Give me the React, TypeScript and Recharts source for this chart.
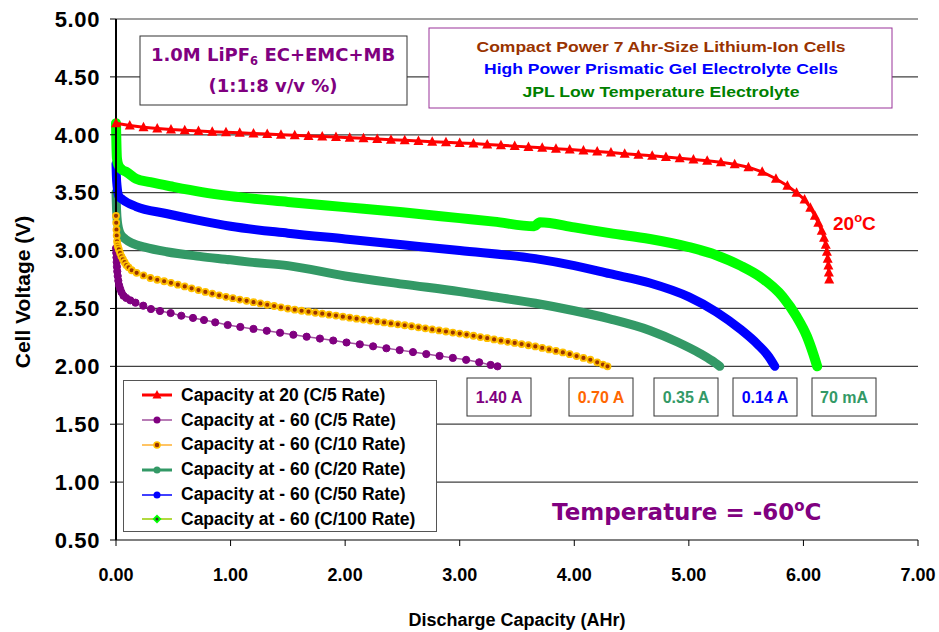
import React from "react";
import { CartesianGrid, Legend, Line, LineChart, XAxis, YAxis } from "recharts";

const xTicks = [0, 1, 2, 3, 4, 5, 6, 7];
const yTicks = [0.5, 1, 1.5, 2, 2.5, 3, 3.5, 4, 4.5, 5];

// [capacity AHr, voltage V]
const rt_c5 = [
  [0, 4.10], [0.12, 4.08], [0.24, 4.065], [0.36, 4.055], [0.48, 4.045], [0.60, 4.04], [0.72, 4.033],
  [0.84, 4.027], [0.96, 4.022], [1.08, 4.017], [1.20, 4.012], [1.32, 4.006], [1.44, 4.0], [1.56, 3.995],
  [1.68, 3.99], [1.80, 3.985], [1.92, 3.98], [2.04, 3.975], [2.16, 3.97], [2.28, 3.964], [2.40, 3.958],
  [2.52, 3.952], [2.64, 3.946], [2.76, 3.94], [2.88, 3.935], [3.00, 3.93], [3.12, 3.924], [3.24, 3.917],
  [3.36, 3.91], [3.48, 3.902], [3.60, 3.895], [3.72, 3.888], [3.84, 3.88], [3.96, 3.872], [4.08, 3.864],
  [4.20, 3.855], [4.32, 3.846], [4.44, 3.837], [4.56, 3.828], [4.68, 3.818], [4.80, 3.808], [4.92, 3.797],
  [5.04, 3.786], [5.16, 3.775], [5.28, 3.762], [5.40, 3.745], [5.52, 3.72], [5.64, 3.68], [5.76, 3.62],
  [5.86, 3.56], [5.94, 3.50], [6.01, 3.44], [6.06, 3.37], [6.10, 3.30], [6.13, 3.24], [6.16, 3.17],
  [6.18, 3.11], [6.195, 3.05], [6.205, 2.99], [6.212, 2.93], [6.218, 2.87], [6.222, 2.81], [6.225, 2.75],
];

const lt_c5 = [
  [0, 3.02], [0.002, 2.98], [0.004, 2.94], [0.006, 2.90], [0.008, 2.86], [0.011, 2.82], [0.015, 2.78],
  [0.02, 2.74], [0.027, 2.70], [0.036, 2.67], [0.048, 2.64], [0.065, 2.61], [0.09, 2.59], [0.125, 2.57],
  [0.17, 2.55], [0.238, 2.524], [0.305, 2.495], [0.384, 2.478], [0.477, 2.46],
  [0.57, 2.437], [0.672, 2.418], [0.768, 2.40], [0.866, 2.38], [0.975, 2.357], [1.085, 2.34], [1.20, 2.323],
  [1.316, 2.307], [1.432, 2.29], [1.548, 2.273], [1.664, 2.256], [1.78, 2.24], [1.896, 2.223], [2.012, 2.206],
  [2.128, 2.19], [2.244, 2.173], [2.36, 2.156], [2.476, 2.14], [2.592, 2.123], [2.708, 2.106], [2.824, 2.09],
  [2.94, 2.073], [3.056, 2.056], [3.17, 2.035], [3.27, 2.012], [3.33, 2.0],
];

const lt_c10 = [
  [0, 3.30], [0.002, 3.24], [0.004, 3.18], [0.006, 3.13], [0.009, 3.08], [0.013, 3.05], [0.018, 3.03],
  [0.025, 3.01], [0.035, 2.98], [0.047, 2.95], [0.06, 2.925], [0.075, 2.90], [0.09, 2.875], [0.11, 2.855],
  [0.137, 2.83], [0.18, 2.808], [0.24, 2.785], [0.30, 2.763], [0.36, 2.748], [0.42, 2.735], [0.48, 2.721],
  [0.54, 2.705], [0.60, 2.69], [0.66, 2.674], [0.72, 2.659], [0.78, 2.643], [0.84, 2.628], [0.90, 2.613],
  [0.96, 2.60], [1.02, 2.589], [1.08, 2.577], [1.14, 2.566], [1.20, 2.554], [1.26, 2.543], [1.32, 2.532],
  [1.38, 2.521], [1.44, 2.51], [1.50, 2.499], [1.56, 2.489], [1.62, 2.48], [1.68, 2.472], [1.74, 2.463],
  [1.80, 2.455], [1.86, 2.446], [1.92, 2.438], [1.98, 2.429], [2.04, 2.42], [2.10, 2.412], [2.16, 2.404],
  [2.22, 2.396], [2.28, 2.388], [2.34, 2.379], [2.40, 2.371], [2.46, 2.363], [2.52, 2.355], [2.58, 2.346],
  [2.64, 2.337], [2.70, 2.328], [2.76, 2.319], [2.82, 2.31], [2.88, 2.301], [2.94, 2.292], [3.00, 2.283],
  [3.06, 2.274], [3.12, 2.264], [3.18, 2.253], [3.24, 2.243], [3.30, 2.232], [3.36, 2.222], [3.42, 2.212],
  [3.48, 2.202], [3.54, 2.192], [3.60, 2.182], [3.66, 2.172], [3.72, 2.159], [3.78, 2.146], [3.84, 2.133],
  [3.90, 2.12], [3.96, 2.105], [4.02, 2.089], [4.08, 2.073], [4.14, 2.057], [4.20, 2.035], [4.25, 2.015],
  [4.29, 2.0],
];

const lt_c20 = [
  [0, 3.50], [0.005, 3.35], [0.012, 3.25], [0.035, 3.15], [0.08, 3.10], [0.15, 3.06], [0.25, 3.03],
  [0.44, 2.99], [0.73, 2.95], [1.0, 2.92], [1.17, 2.90], [1.5, 2.87], [2.0, 2.78], [2.5, 2.71],
  [3.0, 2.645], [3.3, 2.60], [3.66, 2.545], [4.0, 2.48], [4.31, 2.41], [4.66, 2.31], [4.9, 2.21],
  [5.1, 2.11], [5.2, 2.05], [5.27, 2.0],
];

const lt_c50 = [
  [0, 3.75], [0.003, 3.65], [0.01, 3.55], [0.025, 3.47], [0.058, 3.44], [0.175, 3.38], [0.436, 3.32],
  [0.7, 3.265], [1.0, 3.21], [1.5, 3.15], [2.0, 3.10], [2.5, 3.05], [3.0, 3.0], [3.66, 2.93],
  [4.0, 2.87], [4.31, 2.80], [4.66, 2.72], [5.0, 2.60], [5.24, 2.47], [5.45, 2.32], [5.6, 2.19],
  [5.7, 2.08], [5.75, 2.0],
];

const lt_c100 = [
  [0, 4.10], [0.003, 3.95], [0.008, 3.80], [0.02, 3.74], [0.05, 3.70], [0.09, 3.68], [0.175, 3.62],
  [0.3, 3.59], [0.5, 3.55], [0.75, 3.505], [1.0, 3.47], [1.5, 3.42], [2.0, 3.375], [2.5, 3.33],
  [3.0, 3.28], [3.3, 3.25], [3.65, 3.21], [3.70, 3.245], [4.0, 3.20], [4.31, 3.15], [4.66, 3.10],
  [5.0, 3.03], [5.24, 2.96], [5.45, 2.87], [5.62, 2.775], [5.82, 2.60], [5.94, 2.43], [6.03, 2.26],
  [6.085, 2.11], [6.12, 2.0],
];

const seriesNames = [
  "Capacity at 20 (C/5 Rate)",
  "Capacity at - 60 (C/5 Rate)",
  "Capacity at - 60 (C/10 Rate)",
  "Capacity at - 60 (C/20 Rate)",
  "Capacity at - 60 (C/50 Rate)",
  "Capacity at - 60 (C/100 Rate)",
];

const currentLabels = ["1.40 A", "0.70 A", "0.35 A", "0.14 A", "70 mA"];

const pts = (arr: number[][]) => arr.map(([c, v]) => ({ c, v }));

const FONT = "'Liberation Sans', Arial, sans-serif";
const COMIC = "'DejaVu Sans', sans-serif";

function Tri(props: any) {
  const { cx, cy } = props;
  if (cx == null || cy == null) return null;
  return <polygon points={`${cx},${cy - 5.5} ${cx - 5},${cy + 4} ${cx + 5},${cy + 4}`} fill="#FF0000" />;
}

function LegendIcon({ i }: { i: number }) {
  const y = 7;
  switch (i) {
    case 0:
      return (
        <svg width={30} height={14}>
          <line x1={0} x2={30} y1={y} y2={y} stroke="#FF0000" strokeWidth={3} />
          <polygon points={`15,${y - 5} 10.5,${y + 3.5} 19.5,${y + 3.5}`} fill="#FF0000" />
        </svg>
      );
    case 1:
      return (
        <svg width={30} height={14}>
          <line x1={0} x2={30} y1={y} y2={y} stroke="#A0509E" strokeWidth={1.5} />
          <circle cx={15} cy={y} r={3.5} fill="#800080" />
        </svg>
      );
    case 2:
      return (
        <svg width={30} height={14}>
          <line x1={0} x2={30} y1={y} y2={y} stroke="#FFB030" strokeWidth={1.5} />
          <circle cx={15} cy={y} r={3} fill="#993300" stroke="#FFC000" strokeWidth={1.5} />
        </svg>
      );
    case 3:
      return (
        <svg width={30} height={14}>
          <line x1={0} x2={30} y1={y} y2={y} stroke="#339966" strokeWidth={3} />
          <circle cx={15} cy={y} r={3.5} fill="#339966" />
        </svg>
      );
    case 4:
      return (
        <svg width={30} height={14}>
          <line x1={0} x2={30} y1={y} y2={y} stroke="#0000FF" strokeWidth={1.5} />
          <circle cx={15} cy={y} r={3.5} fill="#0000FF" />
        </svg>
      );
    default:
      return (
        <svg width={30} height={14}>
          <line x1={0} x2={30} y1={y} y2={y} stroke="#99CC00" strokeWidth={1.5} />
          <polygon points={`15,${y - 4.5} 19.5,${y} 15,${y + 4.5} 10.5,${y}`} fill="#00FF00" />
          <circle cx={15} cy={y} r={1.5} fill="#333" />
        </svg>
      );
  }
}

function LegendBox() {
  return (
    <div
      style={{
        width: 312,
        height: 148,
        border: "1px solid #555",
        background: "#fff",
        boxSizing: "content-box",
        paddingTop: 2,
        fontFamily: FONT,
        fontWeight: "bold",
        fontSize: 17.5,
      }}
    >
      {seriesNames.map((n, i) => (
        <div key={n} style={{ height: 24.8, display: "flex", alignItems: "center", paddingLeft: 18 }}>
          <LegendIcon i={i} />
          <span style={{ marginLeft: 9, whiteSpace: "nowrap", color: "#000" }}>{n}</span>
        </div>
      ))}
    </div>
  );
}

const boxX = [467, 569, 654, 733, 812];
const boxColors = ["#800080", "#FF6600", "#339966", "#0000FF", "#339966"];

export default function App() {
  return (
    <div style={{ position: "fixed", left: 0, top: 0, width: 939, height: 632, background: "#fff" }}>
      <LineChart width={939} height={632} margin={{ top: 19, right: 21, bottom: 0, left: 0 }}>
        <CartesianGrid vertical={false} stroke="#404040" strokeWidth={1.2} />
        <XAxis
          type="number"
          dataKey="c"
          domain={[0, 7]}
          ticks={xTicks}
          tickFormatter={(v: number) => v.toFixed(2)}
          height={92}
          axisLine={{ stroke: "#808080", strokeWidth: 2 }}
          tickLine={{ stroke: "#000" }}
          tickSize={6}
          tickMargin={22}
          tick={{ fill: "#000", fontSize: 18, fontWeight: "bold", fontFamily: FONT }}
          label={{
            value: "Discharge Capacity (AHr)",
            position: "insideBottom",
            offset: 6,
            style: { fill: "#000", fontSize: 18, fontWeight: "bold", fontFamily: FONT },
          }}
        />
        <YAxis
          type="number"
          domain={[0.5, 5]}
          ticks={yTicks}
          tickFormatter={(v: number) => v.toFixed(2)}
          width={116}
          axisLine={{ stroke: "#000", strokeWidth: 2 }}
          tickLine={{ stroke: "#000" }}
          tickSize={6}
          tickMargin={10}
          tick={{ fill: "#000", fontSize: 22, fontWeight: "bold", fontFamily: FONT, letterSpacing: 0.6 }}
          label={() => (
            <text
              x={22}
              y={292}
              transform="rotate(-90 22 292)"
              textAnchor="middle"
              dominantBaseline="central"
              fill="#000"
              fontSize={21}
              fontWeight="bold"
              fontFamily={FONT}
            >
              Cell Voltage (V)
            </text>
          )}
        />
        <Legend
          layout="vertical"
          align="center"
          verticalAlign="middle"
          content={() => <LegendBox />}
          wrapperStyle={{ position: "absolute", left: 123, top: 380, width: 314, height: 152 }}
        />
        <Line
          data={pts(lt_c20)}
          dataKey="v"
          name={seriesNames[3]}
          type="monotone"
          stroke="#339966"
          strokeWidth={9}
          strokeLinecap="round"
          strokeLinejoin="round"
          dot={false}
          activeDot={false}
          isAnimationActive={false}
        />
        <Line
          data={pts(lt_c50)}
          dataKey="v"
          name={seriesNames[4]}
          type="monotone"
          stroke="#0000FF"
          strokeWidth={9}
          strokeLinecap="round"
          strokeLinejoin="round"
          dot={false}
          activeDot={false}
          isAnimationActive={false}
        />
        <Line
          data={pts(lt_c100)}
          dataKey="v"
          name={seriesNames[5]}
          type="monotone"
          stroke="#00FF00"
          strokeWidth={10}
          strokeLinecap="round"
          strokeLinejoin="round"
          dot={false}
          activeDot={false}
          isAnimationActive={false}
        />
        <Line
          data={pts(lt_c5)}
          dataKey="v"
          name={seriesNames[1]}
          type="linear"
          stroke="#A0509E"
          strokeWidth={1.5}
          dot={{ r: 3.6, fill: "#800080", stroke: "#800080", strokeWidth: 1 }}
          activeDot={false}
          isAnimationActive={false}
        />
        <Line
          data={pts(lt_c10)}
          dataKey="v"
          name={seriesNames[2]}
          type="linear"
          stroke="#FFB030"
          strokeWidth={1.5}
          dot={{ r: 3, fill: "#993300", stroke: "#FFC000", strokeWidth: 1.8 }}
          activeDot={false}
          isAnimationActive={false}
        />
        <Line
          data={pts(rt_c5)}
          dataKey="v"
          name={seriesNames[0]}
          type="linear"
          stroke="#FF0000"
          strokeWidth={3}
          dot={<Tri />}
          activeDot={false}
          isAnimationActive={false}
        />
      </LineChart>

      <svg
        width={939}
        height={632}
        style={{ position: "absolute", left: 0, top: 0, pointerEvents: "none" }}
        fontWeight="bold"
      >
        <rect x={140} y={36} width={267} height={69} fill="#fff" stroke="#333" />
        <text x={273} y={61} textAnchor="middle" fill="#800080" fontFamily={COMIC} fontSize={18}>
          1.0M LiPF<tspan fontSize={11.5} dy={4}>6</tspan>
          <tspan dy={-4}>{"  EC+EMC+MB"}</tspan>
        </text>
        <text x={273} y={92} textAnchor="middle" fill="#800080" fontFamily={COMIC} fontSize={18}>
          (1:1:8 v/v %)
        </text>

        <rect x={429} y={28} width={463} height={80} fill="#fff" stroke="#993399" />
        <text x={661} y={52} textAnchor="middle" fill="#993300" fontFamily={FONT} fontSize={15}
          textLength={369} lengthAdjust="spacingAndGlyphs">
          Compact Power 7 Ahr-Size Lithium-Ion Cells
        </text>
        <text x={661} y={74} textAnchor="middle" fill="#0000FF" fontFamily={FONT} fontSize={15}
          textLength={354} lengthAdjust="spacingAndGlyphs">
          High Power Prismatic Gel Electrolyte Cells
        </text>
        <text x={661} y={97} textAnchor="middle" fill="#008000" fontFamily={FONT} fontSize={15}
          textLength={277} lengthAdjust="spacingAndGlyphs">
          JPL Low Temperature Electrolyte
        </text>

        {currentLabels.map((t, i) => (
          <g key={t}>
            <rect x={boxX[i]} y={378} width={64} height={38} fill="#fff" stroke="#333" />
            <text x={boxX[i] + 32} y={403} textAnchor="middle" fill={boxColors[i]} fontFamily={FONT} fontSize={16}>
              {t}
            </text>
          </g>
        ))}

        <text x={833} y={230} fill="#FF0000" fontFamily={FONT} fontSize={19}>
          20<tspan fontSize={13} dy={-8}>o</tspan>
          <tspan dy={8}>C</tspan>
        </text>

        <text x={552} y={520} fill="#800080" fontFamily={COMIC} fontSize={23}>
          Temperature = -60<tspan fontSize={15} dy={-9}>o</tspan>
          <tspan dy={9}>C</tspan>
        </text>
      </svg>
    </div>
  );
}
